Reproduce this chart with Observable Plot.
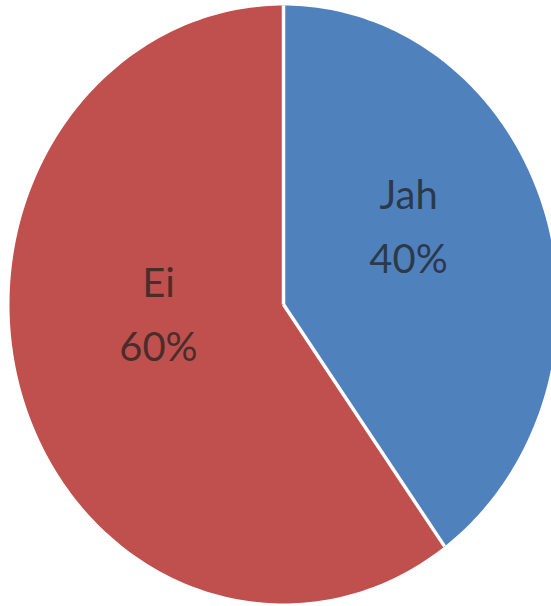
<!DOCTYPE html>
<html>
<head>
<meta charset="utf-8">
<script src="https://cdn.jsdelivr.net/npm/d3@7"></script>
<script src="https://cdn.jsdelivr.net/npm/@observablehq/plot@0.6"></script>
<style>
  html, body { margin: 0; padding: 0; background: #ffffff; }
  #chart svg { display: block; }
</style>
</head>
<body>
<div id="chart"></div>
<script>
// Data
const categories = ["Jah", "Ei"];
const values = [40, 60];
const colors = ["#4F81BD", "#C0504D"];

// Build slices (clockwise from 12 o'clock)
const table = categories.map((c, i) => ({category: c, value: values[i]}));
const arcs = d3.pie().sort(null).value(d => d.value)(table);

// Polygon points for each slice, derived from the pie angles
const points = [];
arcs.forEach(a => {
  const key = a.data.category;
  points.push({key, x: 0, y: 0});
  const n = Math.max(2, Math.ceil((a.endAngle - a.startAngle) / (Math.PI / 180)));
  for (let k = 0; k <= n; ++k) {
    const t = a.startAngle + (a.endAngle - a.startAngle) * k / n;
    points.push({key, x: Math.sin(t), y: Math.cos(t)});
  }
});

// Separators along slice boundaries
const seps = arcs.map(a => ({x1: 0, y1: 0, x2: Math.sin(a.startAngle), y2: Math.cos(a.startAngle)}));

// Labels at mid-angle
const total = d3.sum(values);
const labels = arcs.map(a => {
  const m = (a.startAngle + a.endAngle) / 2;
  return {
    x: 0.48 * Math.sin(m),
    y: 0.48 * Math.cos(m),
    text: `${a.data.category}\n${Math.round(a.data.value / total * 100)}%`
  };
});

const chart = Plot.plot({
  width: 551,
  height: 606,
  marginLeft: 9,
  marginRight: 0,
  marginTop: 5,
  marginBottom: 3,
  x: {domain: [-1, 0.978], axis: null},
  y: {domain: [-1, 1], axis: null},
  color: {domain: categories, range: colors},
  style: {background: "#ffffff", overflow: "hidden"},
  marks: [
    Plot.line(points, {x: "x", y: "y", z: "key", fill: "key", stroke: "none", curve: "linear-closed"}),
    Plot.link(seps, {x1: "x1", y1: "y1", x2: "x2", y2: "y2", stroke: "#ffffff", strokeWidth: 3.5}),
    Plot.text(labels, {
      x: "x", y: "y", text: "text",
      fontSize: 40, lineHeight: 1.6,
      fontFamily: "Lato, 'Noto Sans', sans-serif",
      fill: "#222222", fillOpacity: 0.75,
      dy: -40
    })
  ]
});
document.getElementById("chart").append(chart);
</script>
</body>
</html>
